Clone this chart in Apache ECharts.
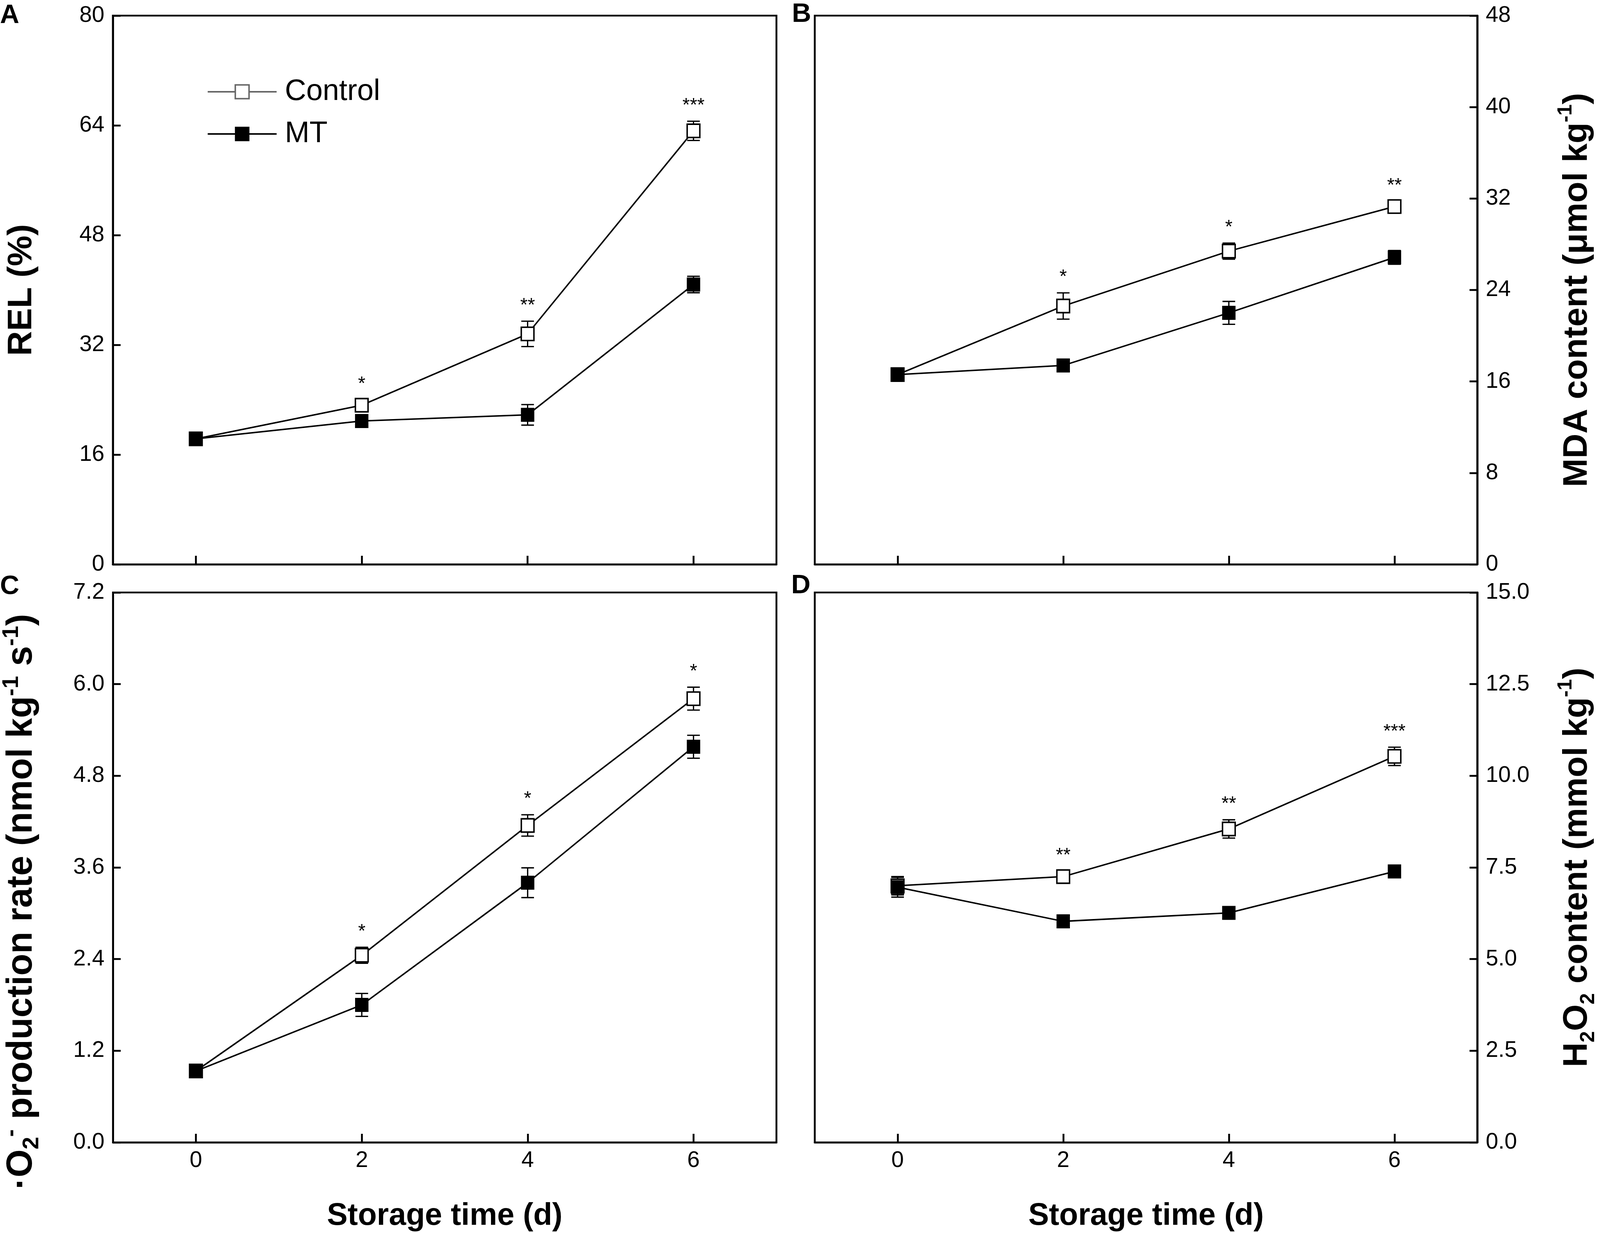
<!DOCTYPE html>
<html>
<head>
<meta charset="utf-8">
<script src="https://cdn.jsdelivr.net/npm/echarts@6/dist/echarts.min.js"></script>
<style>
html,body{margin:0;padding:0;background:#fff;overflow:hidden;width:100%;height:100%;}
#chart{width:100vw;height:100vh;}
</style>
</head>
<body>
<div id="chart"></div>
<script>
// ---------------- data ----------------
const days = [0, 2, 4, 6];
const seriesNames = ['Control', 'MT'];

// A: REL (%)
const relControl    = [18.3, 23.2, 33.6, 63.2];
const relControlErr = [0.5, 0.8, 1.85, 1.4];
const relMT         = [18.3, 20.9, 21.8, 40.8];
const relMTErr      = [0.5, 0.7, 1.5, 1.2];
const relSig        = ['', '*', '**', '***'];

// B: MDA content (umol/kg)
const mdaControl    = [16.6, 22.6, 27.4, 31.3];
const mdaControlErr = [0.4, 1.15, 0.7, 0.45];
const mdaMT         = [16.6, 17.4, 22.0, 26.85];
const mdaMTErr      = [0.4, 0.5, 1.0, 0.6];
const mdaSig        = ['', '*', '*', '**'];

// C: O2- production rate
const o2Control     = [0.935, 2.45, 4.15, 5.81];
const o2ControlErr  = [0.05, 0.105, 0.14, 0.15];
const o2MT          = [0.935, 1.80, 3.40, 5.18];
const o2MTErr       = [0.05, 0.15, 0.195, 0.15];
const o2Sig         = ['', '*', '*', '*'];

// D: H2O2 content
const h2o2Control    = [7.0, 7.25, 8.55, 10.53];
const h2o2ControlErr = [0.25, 0.15, 0.25, 0.25];
const h2o2MT         = [6.96, 6.03, 6.26, 7.39];
const h2o2MTErr      = [0.27, 0.12, 0.12, 0.12];
const h2o2Sig        = ['', '**', '**', '***'];

// axis ticks
const relTicks  = {min: 0, max: 80, interval: 16};
const mdaTicks  = {min: 0, max: 48, interval: 8};
const o2Ticks   = {min: 0, max: 7.2, interval: 1.2};
const h2o2Ticks = {min: 0, max: 15, interval: 2.5};

const xTitle = 'Storage time (d)';
const panelLetters = ['A', 'B', 'C', 'D'];

// ---------------- layout / style ----------------
const el = document.getElementById('chart');
const W = el.clientWidth || window.innerWidth;
const H = el.clientHeight || window.innerHeight;
const SX = W / 4550, SY = H / 3157, S = Math.sqrt(SX * SY);
const hx = v => v * SX;   // horizontal extents
const vy = v => v * SY;   // vertical extents
const px = v => v * S;    // general sizes

const FONT = '"Liberation Sans", Arial, sans-serif';
const gridsRef = [
  {left: 321,  top: 40,   width: 1887, height: 1405},
  {left: 2317, top: 40,   width: 1884, height: 1405},
  {left: 321,  top: 1517, width: 1887, height: 1408},
  {left: 2317, top: 1517, width: 1884, height: 1408}
];
const grids = gridsRef.map(g => ({left: hx(g.left), top: vy(g.top), width: hx(g.width), height: vy(g.height)}));

// rotated titles run along y, so they are sized on the vertical scale
function richFor(main, small) {
  return {
    b:   {fontSize: vy(main), fontWeight: 'bold', fontFamily: FONT, color: '#000', lineHeight: vy(110), verticalAlign: 'middle'},
    sup: {fontSize: vy(small), fontWeight: 'bold', fontFamily: FONT, color: '#000', lineHeight: vy(small), verticalAlign: 'top'},
    sub: {fontSize: vy(small), fontWeight: 'bold', fontFamily: FONT, color: '#000', lineHeight: vy(small), verticalAlign: 'bottom'}
  };
}
const yNames = [
  '{b|REL (%)}',
  '{b|MDA content (μmol kg}{sup|-1}{b|)}',
  '{b|·O}{sub|2}{sup|-}{b| production rate (nmol kg}{sup|-1}{b| s}{sup|-1}{b|)}',
  '{b|H}{sub|2}{b|O}{sub|2}{b| content (mmol kg}{sup|-1}{b|)}'
];
const yNameFont = [[88, 52], [88, 52], [92, 58], [88, 52]];
const yNamePad  = [[0, 0, 0, 0], [0, 0, 0, 0], [0, 175, 0, 0], [0, 0, 0, 0]];
const yTickSets = [relTicks, mdaTicks, o2Ticks, h2o2Ticks];
const yDecimals = [0, 0, 1, 1];

function makeXAxis(i) {
  const showLab = i >= 2;
  return {
    gridIndex: i, type: 'value', min: -1, max: 7,
    axisLine: {show: true, onZero: false, lineStyle: {color: '#000', width: px(5)}},
    axisTick: {show: true, inside: true, length: vy(22), lineStyle: {color: '#000', width: px(5)}, customValues: days},
    axisLabel: {show: showLab, customValues: days, margin: vy(18), fontSize: hx(64), fontFamily: FONT, color: '#000'},
    splitLine: {show: false},
    name: showLab ? xTitle : '',
    nameLocation: 'middle', nameGap: vy(150),
    nameTextStyle: {fontSize: hx(88), fontWeight: 'bold', fontFamily: FONT, color: '#000'}
  };
}
function makeYAxis(i) {
  const t = yTickSets[i];
  const right = (i % 2) === 1;
  return {
    gridIndex: i, type: 'value', position: right ? 'right' : 'left',
    min: t.min, max: t.max, interval: t.interval,
    axisLine: {show: true, onZero: false, lineStyle: {color: '#000', width: px(5)}},
    axisTick: {show: true, inside: true, length: hx(22), lineStyle: {color: '#000', width: px(5)}},
    axisLabel: {margin: hx(24), fontSize: hx(64), fontFamily: FONT, color: '#000',
      formatter: v => Number(v).toFixed(yDecimals[i])},
    splitLine: {show: false},
    name: yNames[i], nameLocation: 'middle', nameRotate: 90,
    nameGap: right ? hx(223) : hx(198),
    nameTextStyle: {rich: richFor(yNameFont[i][0], yNameFont[i][1]), fontSize: vy(yNameFont[i][0]),
      fontWeight: 'bold', fontFamily: FONT, color: '#000', padding: yNamePad[i].map(vy)}
  };
}

function lineSeries(gi, name, vals, filled) {
  return {
    type: 'line', name: name, xAxisIndex: gi, yAxisIndex: gi, z: 3,
    data: days.map((d, k) => [d, vals[k]]),
    symbol: 'rect', symbolSize: [hx(36), vy(34)],
    color: filled ? '#000' : '#fff',
    lineStyle: {color: '#000', width: px(4)},
    itemStyle: filled ? {color: '#000', borderColor: '#000', borderWidth: px(2)}
                      : {color: '#fff', borderColor: '#000', borderWidth: px(4)},
    emphasis: {disabled: true},
    animation: false
  };
}
function errSeries(gi, name, vals, errs, sig) {
  return {
    type: 'custom', name: name + ' error', xAxisIndex: gi, yAxisIndex: gi, z: 2,
    data: days.map((d, k) => [d, vals[k] - errs[k], vals[k] + errs[k], k]),
    encode: {x: 0, y: [1, 2]},
    renderItem: function (params, api) {
      const x = api.value(0), lo = api.value(1), hi = api.value(2), k = api.value(3);
      const pL = api.coord([x, lo]), pH = api.coord([x, hi]);
      const hw = hx(18);
      const st = {stroke: '#000', lineWidth: px(3.5)};
      const ch = [
        {type: 'line', shape: {x1: pL[0], y1: pL[1], x2: pH[0], y2: pH[1]}, style: st},
        {type: 'line', shape: {x1: pL[0] - hw, y1: pL[1], x2: pL[0] + hw, y2: pL[1]}, style: st},
        {type: 'line', shape: {x1: pH[0] - hw, y1: pH[1], x2: pH[0] + hw, y2: pH[1]}, style: st}
      ];
      if (sig && sig[k]) {
        ch.push({type: 'text', style: {text: sig[k], x: pH[0], y: pH[1] - vy(40),
          align: 'center', verticalAlign: 'middle', fontSize: hx(54), fontFamily: FONT, fill: '#000'}});
      }
      return {type: 'group', children: ch};
    },
    animation: false, silent: true
  };
}

const panels = [
  [relControl, relControlErr, relMT, relMTErr, relSig],
  [mdaControl, mdaControlErr, mdaMT, mdaMTErr, mdaSig],
  [o2Control, o2ControlErr, o2MT, o2MTErr, o2Sig],
  [h2o2Control, h2o2ControlErr, h2o2MT, h2o2MTErr, h2o2Sig]
];

const series = [];
panels.forEach((p, i) => {
  series.push(errSeries(i, seriesNames[0], p[0], p[1], p[4]));
  series.push(errSeries(i, seriesNames[1], p[2], p[3], null));
});
panels.forEach((p, i) => {
  series.push(lineSeries(i, seriesNames[0], p[0], false));
  series.push(lineSeries(i, seriesNames[1], p[2], true));
});

const letterPos = [[0, 6], [2252, 3], [0, 1468], [2250, 1466]];
const graphics = panelLetters.map((L, i) => ({
  type: 'text', left: hx(letterPos[i][0]), top: vy(letterPos[i][1]),
  style: {text: L, fontSize: px(72), fontWeight: 'bold', fontFamily: FONT, fill: '#000'}
}));

const option = {
  backgroundColor: '#fff',
  animation: false,
  grid: grids.map(g => Object.assign({show: true, borderColor: '#000', borderWidth: px(5), backgroundColor: 'transparent', containLabel: false}, g)),
  xAxis: grids.map((g, i) => makeXAxis(i)),
  yAxis: grids.map((g, i) => makeYAxis(i)),
  legend: {
    orient: 'vertical', left: hx(583), top: vy(185),
    itemWidth: hx(196), itemHeight: vy(44), itemGap: vy(18),
    selectedMode: false,
    textStyle: {fontSize: hx(84), fontFamily: FONT, color: '#000', lineHeight: vy(90), padding: [0, 0, 0, hx(18)]},
    data: [
      {name: 'Control', lineStyle: {color: '#666', width: px(4)}, itemStyle: {color: '#fff', borderColor: '#666', borderWidth: px(4)}},
      {name: 'MT', lineStyle: {color: '#000', width: px(4)}, itemStyle: {color: '#000'}}
    ]
  },
  graphic: graphics,
  series: series
};

const chart = echarts.init(el, null, {renderer: 'canvas', width: W, height: H});
chart.setOption(option);
</script>
</body>
</html>
